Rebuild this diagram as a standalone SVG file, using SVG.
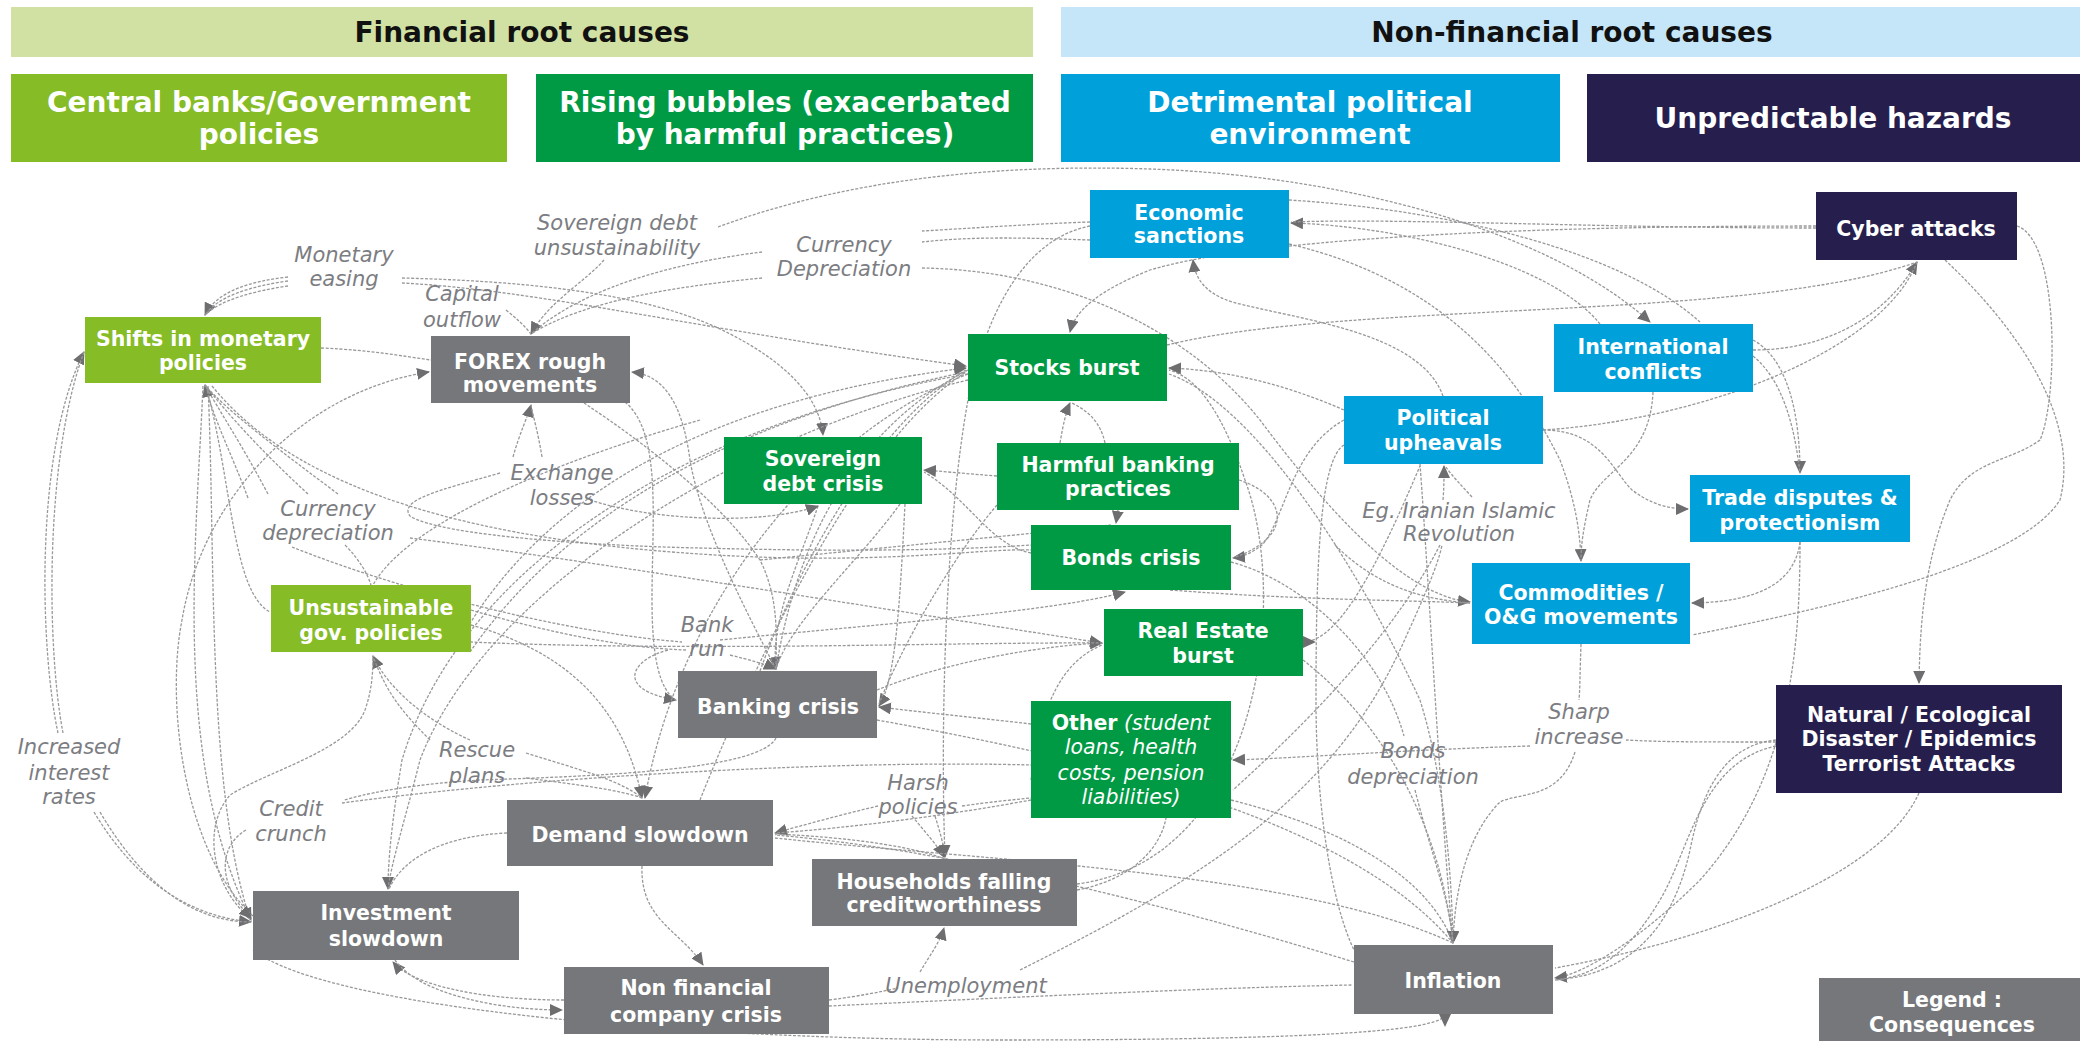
<svg xmlns="http://www.w3.org/2000/svg" width="2080" height="1041" viewBox="0 0 2080 1041">
  <style>
    .bar-t { font-family: "DejaVu Sans", Verdana, sans-serif; font-weight: bold; font-size: 28px; fill: #111; text-anchor: middle; }
    .cat-t { font-family: "DejaVu Sans", Verdana, sans-serif; font-weight: bold; font-size: 28px; fill: #fff; text-anchor: middle; }
    .n-t { font-family: "DejaVu Sans", Verdana, sans-serif; font-weight: bold; font-size: 20.5px; fill: #fff; text-anchor: middle; }
    .n-i { font-weight: normal; font-style: italic; }
    .lbl { font-family: "DejaVu Sans", Verdana, sans-serif; font-style: italic; font-size: 21px; fill: #7c7d82; text-anchor: middle; }
    .lg { fill: #86bc25; }
    .dg { fill: #009a44; }
    .bl { fill: #00a1da; }
    .nv { fill: #261f4e; }
    .gr { fill: #76777a; }
    .c { fill: none; stroke: #98989b; stroke-width: 1.3; stroke-dasharray: 3 1.6; }
    .a { marker-end: url(#ah); }
    .t { marker-start: url(#at); }
  </style>
  <defs>
    <marker id="ah" viewBox="0 0 13 12" refX="12" refY="6" markerWidth="13" markerHeight="12" markerUnits="userSpaceOnUse" orient="auto">
      <path d="M0,0 L13,6 L0,12 z" fill="#6e6e71"/>
    </marker>
    <marker id="at" viewBox="0 0 13 12" refX="0" refY="6" markerWidth="13" markerHeight="12" markerUnits="userSpaceOnUse" orient="auto">
      <path d="M0,0 L13,6 L0,12 z" fill="#6e6e71"/>
    </marker>
  </defs>
  <rect width="2080" height="1041" fill="#fff"/>

  <!-- Header bars -->
  <g id="hdr-financial">
    <rect x="11" y="7" width="1022" height="50" fill="#d1e1a3"/>
    <text class="bar-t" x="522" y="42">Financial root causes</text>
  </g>
  <g id="hdr-nonfinancial">
    <rect x="1061" y="7" width="1019" height="50" fill="#c5e6f8"/>
    <text class="bar-t" x="1572" y="42">Non-financial root causes</text>
  </g>
  <g id="cat-central">
    <rect x="11" y="74" width="496" height="88" class="lg"/>
    <text class="cat-t" x="259" y="112">Central banks/Government</text>
    <text class="cat-t" x="259" y="144">policies</text>
  </g>
  <g id="cat-bubbles">
    <rect x="536" y="74" width="497" height="88" class="dg"/>
    <text class="cat-t" x="785" y="112">Rising bubbles (exacerbated</text>
    <text class="cat-t" x="785" y="144">by harmful practices)</text>
  </g>
  <g id="cat-political">
    <rect x="1061" y="74" width="499" height="88" class="bl"/>
    <text class="cat-t" x="1310" y="112">Detrimental political</text>
    <text class="cat-t" x="1310" y="144">environment</text>
  </g>
  <g id="cat-hazards">
    <rect x="1587" y="74" width="493" height="88" class="nv"/>
    <text class="cat-t" x="1833" y="128">Unpredictable hazards</text>
  </g>

  <!-- Connectors -->
  <g id="connectors">
    <path class="c a" d="M288,277 C250,281 216,292 205,315"/>
    <path class="c" d="M288,281 C252,286 218,296 205,315"/>
    <path class="c" d="M288,286 C254,291 220,300 205,315"/>
    <path class="c a" d="M402,278 C520,281 640,292 718,328 C790,362 820,400 823,435"/>
    <path class="c a" d="M402,283 C540,290 700,330 966,366"/>
    <path class="c a" d="M604,260 C585,282 548,302 531,334"/>
    <path class="c" d="M506,310 C516,318 525,326 531,334"/>
    <path class="c" d="M762,252 C680,262 585,286 531,334"/>
    <path class="c" d="M762,278 C680,286 585,300 531,334"/>
    <path class="c" d="M1090,222 C1030,224 975,228 922,231"/>
    <path class="c" d="M1090,240 C1030,238 975,236 922,242"/>
    <path class="c a" d="M922,268 C1050,270 1180,320 1260,420 C1320,500 1400,595 1470,602"/>
    <path class="c a" d="M718,227 C850,178 1000,164 1150,169 C1350,176 1550,232 1650,322"/>
    <path class="c a" d="M248,498 C232,455 214,420 205,385"/>
    <path class="c" d="M268,494 C242,445 220,412 205,385"/>
    <path class="c" d="M308,494 C262,452 226,412 205,385"/>
    <path class="c" d="M338,494 C282,452 228,412 205,385"/>
    <path class="c a" d="M203,386 C196,550 172,760 251,920"/>
    <path class="c" d="M208,386 C216,560 206,790 251,922"/>
    <path class="c" d="M206,386 C232,480 232,592 270,612"/>
    <path class="c a" d="M58,733 C40,650 34,450 84,352"/>
    <path class="c" d="M63,733 C47,650 44,460 84,352"/>
    <path class="c a" d="M94,812 C130,872 180,915 251,922"/>
    <path class="c" d="M100,812 C140,880 190,922 251,922"/>
    <path class="c" d="M321,348 C370,350 402,356 431,360"/>
    <path class="c a" d="M253,916 C182,850 166,700 182,620 C202,500 300,392 429,372"/>
    <path class="c a" d="M513,457 C520,432 528,416 531,405"/>
    <path class="c" d="M542,457 C538,432 533,416 531,405"/>
    <path class="c" d="M500,473 C440,490 398,500 410,516 C440,536 600,546 700,548 C850,552 960,550 1031,545"/>
    <path class="c a" d="M410,538 C600,562 850,604 1102,643"/>
    <path class="c" d="M212,386 C280,470 420,536 700,554 C880,566 980,548 1031,550"/>
    <path class="c" d="M292,547 C400,590 560,632 682,642"/>
    <path class="c a" d="M730,655 C750,660 765,664 776,669"/>
    <path class="c a" d="M668,650 C630,660 615,690 676,700"/>
    <path class="c" d="M345,545 C360,560 368,575 371,585"/>
    <path class="c" d="M700,420 C560,460 410,520 373,585"/>
    <path class="c a" d="M460,640 C540,500 700,400 966,368"/>
    <path class="c" d="M470,652 C560,522 720,422 966,372"/>
    <path class="c" d="M471,610 C540,630 620,648 686,650"/>
    <path class="c a" d="M471,625 C560,650 622,700 642,798"/>
    <path class="c a" d="M470,740 C430,722 390,692 373,656"/>
    <path class="c" d="M430,740 C402,712 386,692 373,656"/>
    <path class="c" d="M526,753 C580,770 620,780 642,798"/>
    <path class="c" d="M526,778 C580,785 620,790 642,798"/>
    <path class="c" d="M250,918 C215,890 200,830 230,795 C270,770 350,750 365,710 C372,690 373,672 373,656"/>
    <path class="c a" d="M246,830 C220,845 215,882 251,918"/>
    <path class="c" d="M342,803 C550,775 850,760 1031,765"/>
    <path class="c a" d="M968,374 C700,420 462,560 402,760 C392,820 388,860 388,889"/>
    <path class="c" d="M968,380 C720,440 480,600 420,760 C405,820 392,860 388,889"/>
    <path class="c" d="M507,833 C440,836 402,860 389,889"/>
    <path class="c a" d="M564,1000 C480,1000 412,985 393,962"/>
    <path class="c a" d="M395,960 C420,995 500,1010 562,1010"/>
    <path class="c a" d="M642,866 C640,920 680,930 703,965"/>
    <path class="c t" d="M1445,1014 C1445,1032 1300,1040 1000,1040 C700,1040 330,1010 253,950"/>
    <path class="c" d="M829,1000 C860,996 880,992 898,988"/>
    <path class="c a" d="M920,972 C930,955 940,942 944,928"/>
    <path class="c" d="M1020,970 C1200,880 1330,800 1400,650 C1425,595 1438,565 1442,545"/>
    <path class="c a" d="M1443,500 C1444,488 1444,478 1444,466"/>
    <path class="c" d="M1472,497 C1462,486 1452,476 1446,467"/>
    <path class="c" d="M829,1006 C1000,998 1200,988 1352,985"/>
    <path class="c a" d="M912,816 C925,832 938,846 944,857"/>
    <path class="c" d="M935,816 C940,832 944,846 945,857"/>
    <path class="c" d="M962,806 C990,802 1010,800 1031,798"/>
    <path class="c a" d="M878,806 C840,815 800,826 775,833"/>
    <path class="c a" d="M818,506 C800,560 770,620 776,669"/>
    <path class="c" d="M900,504 C860,560 790,622 776,669"/>
    <path class="c a" d="M590,500 C650,520 760,526 818,506"/>
    <path class="c a" d="M905,504 C900,600 896,680 879,706"/>
    <path class="c a" d="M997,476 C970,474 950,472 924,470"/>
    <path class="c" d="M1031,553 C990,545 970,500 924,472"/>
    <path class="c a" d="M1090,226 C1020,240 985,320 968,400 C946,520 940,720 945,857"/>
    <path class="c" d="M968,370 C870,420 800,520 776,669"/>
    <path class="c a" d="M968,374 C820,432 680,600 645,798"/>
    <path class="c" d="M584,403 C640,440 720,500 760,560 C780,600 776,640 776,669"/>
    <path class="c a" d="M776,669 C740,600 700,520 690,460 C682,400 662,375 632,372"/>
    <path class="c" d="M625,402 C662,432 652,520 652,600 C652,660 660,690 676,700"/>
    <path class="c" d="M760,671 C800,560 880,420 966,370"/>
    <path class="c" d="M776,738 C760,770 600,776 480,780 C400,785 362,795 344,800"/>
    <path class="c a" d="M1031,724 C980,718 920,712 879,707"/>
    <path class="c" d="M997,505 C950,560 900,650 879,704"/>
    <path class="c" d="M1031,800 C950,815 850,828 775,833"/>
    <path class="c" d="M1354,962 C1150,900 950,850 775,835"/>
    <path class="c" d="M945,859 C900,842 820,836 775,834"/>
    <path class="c" d="M1077,890 C1130,880 1160,850 1166,818"/>
    <path class="c" d="M1077,884 C1260,860 1290,600 1245,480 C1225,420 1200,378 1169,370"/>
    <path class="c a" d="M1344,410 C1280,382 1222,370 1169,368"/>
    <path class="c a" d="M1169,374 C1250,402 1350,550 1420,700 C1445,780 1452,880 1453,943"/>
    <path class="c a" d="M1060,443 C1063,425 1066,412 1070,403"/>
    <path class="c" d="M1105,443 C1100,420 1086,410 1072,403"/>
    <path class="c a" d="M1443,396 C1420,332 1300,320 1232,302 C1202,292 1195,276 1193,260"/>
    <path class="c a" d="M1600,324 C1550,262 1400,226 1291,223"/>
    <path class="c" d="M1816,228 C1600,228 1400,218 1291,222"/>
    <path class="c a" d="M1816,226 C1500,226 1250,240 1150,270 C1100,290 1075,310 1070,332"/>
    <path class="c a" d="M1289,244 C1450,282 1520,380 1560,460 C1575,500 1580,530 1581,561"/>
    <path class="c" d="M1653,392 C1650,460 1602,470 1590,500 C1583,530 1581,545 1581,561"/>
    <path class="c a" d="M1753,340 C1790,360 1800,420 1800,473"/>
    <path class="c" d="M1753,356 C1785,382 1795,432 1800,473"/>
    <path class="c a" d="M1753,350 C1820,350 1882,322 1917,262"/>
    <path class="c" d="M1543,430 C1700,420 1882,352 1917,262"/>
    <path class="c a" d="M1543,430 C1600,430 1612,470 1632,490 C1652,505 1670,509 1688,509"/>
    <path class="c" d="M1167,345 C1350,300 1750,322 1917,262"/>
    <path class="c a" d="M1800,542 C1795,582 1760,602 1692,603"/>
    <path class="c a" d="M1800,542 C1800,650 1790,780 1700,880 C1640,940 1582,975 1555,978"/>
    <path class="c" d="M1776,740 C1720,745 1700,800 1690,850 C1670,940 1620,975 1555,980"/>
    <path class="c" d="M1776,746 C1700,762 1690,850 1660,900 C1630,950 1600,975 1555,980"/>
    <path class="c" d="M1919,793 C1880,880 1700,942 1555,968"/>
    <path class="c a" d="M2017,226 C2060,240 2058,400 2040,440 C2010,462 1970,460 1950,500 C1925,560 1920,620 1919,683"/>
    <path class="c" d="M1945,260 C2020,330 2080,420 2060,500 C2020,562 1850,604 1692,635"/>
    <path class="c" d="M1581,644 C1580,670 1580,690 1579,700"/>
    <path class="c a" d="M1575,752 C1560,800 1520,792 1500,802 C1470,832 1455,882 1453,943"/>
    <path class="c" d="M1776,742 C1700,742 1660,742 1626,740"/>
    <path class="c a" d="M1530,746 C1400,750 1300,758 1233,760"/>
    <path class="c" d="M1231,562 C1300,580 1380,650 1404,736"/>
    <path class="c" d="M1415,790 C1430,850 1450,900 1453,943"/>
    <path class="c" d="M877,720 C1100,760 1350,820 1453,943"/>
    <path class="c" d="M775,838 C1000,862 1300,872 1453,943"/>
    <path class="c" d="M1231,800 C1350,830 1430,880 1453,943"/>
    <path class="c" d="M1303,660 C1380,720 1440,820 1453,943"/>
    <path class="c" d="M1420,464 C1430,600 1440,800 1453,943"/>
    <path class="c a" d="M1344,420 C1290,450 1285,520 1262,545 C1252,553 1242,557 1233,558"/>
    <path class="c" d="M1239,480 C1286,495 1296,536 1233,558"/>
    <path class="c a" d="M1118,510 L1116,523"/>
    <path class="c" d="M760,560 C900,546 1050,532 1111,525"/>
    <path class="c a" d="M720,640 C900,622 1050,612 1125,592"/>
    <path class="c a" d="M877,690 C950,660 1050,645 1102,643"/>
    <path class="c" d="M470,642 C700,652 950,642 1102,643"/>
    <path class="c" d="M1031,780 C1042,702 1062,662 1102,645"/>
    <path class="c t" d="M1303,642 C1340,642 1380,560 1420,466"/>
    <path class="c" d="M1170,590 C1300,600 1400,600 1470,603"/>
    <path class="c" d="M1335,545 C1380,590 1430,600 1470,603"/>
    <path class="c" d="M1344,445 C1320,460 1316,560 1316,700 C1316,800 1330,900 1354,950"/>
    <path class="c" d="M1440,545 C1400,622 1330,702 1233,790"/>
    <path class="c" d="M1289,200 C1450,210 1620,250 1700,322"/>
    <path class="c" d="M700,800 C760,650 860,440 966,372"/>
  </g>

  <!-- Connector labels -->
  <g id="labels">
    <text class="lbl" x="344" y="262">Monetary</text>
    <text class="lbl" x="344" y="286">easing</text>
    <text class="lbl" x="617" y="230">Sovereign debt</text>
    <text class="lbl" x="617" y="255">unsustainability</text>
    <text class="lbl" x="462" y="301">Capital</text>
    <text class="lbl" x="462" y="327">outflow</text>
    <text class="lbl" x="844" y="252">Currency</text>
    <text class="lbl" x="844" y="276">Depreciation</text>
    <text class="lbl" x="328" y="516">Currency</text>
    <text class="lbl" x="328" y="540">depreciation</text>
    <text class="lbl" x="562" y="480">Exchange</text>
    <text class="lbl" x="562" y="505">losses</text>
    <text class="lbl" x="707" y="632">Bank</text>
    <text class="lbl" x="707" y="656">run</text>
    <text class="lbl" x="69" y="754">Increased</text>
    <text class="lbl" x="69" y="780">interest</text>
    <text class="lbl" x="69" y="804">rates</text>
    <text class="lbl" x="291" y="816">Credit</text>
    <text class="lbl" x="291" y="841">crunch</text>
    <text class="lbl" x="477" y="757">Rescue</text>
    <text class="lbl" x="477" y="783">plans</text>
    <text class="lbl" x="918" y="790">Harsh</text>
    <text class="lbl" x="918" y="814">policies</text>
    <text class="lbl" x="966" y="993">Unemployment</text>
    <text class="lbl" x="1413" y="758">Bonds</text>
    <text class="lbl" x="1413" y="784">depreciation</text>
    <text class="lbl" x="1579" y="719">Sharp</text>
    <text class="lbl" x="1579" y="744">increase</text>
    <text class="lbl" x="1459" y="518">Eg. Iranian Islamic</text>
    <text class="lbl" x="1459" y="541">Revolution</text>
  </g>

  <!-- Nodes -->
  <g id="n-shifts"><rect x="85" y="317" width="236" height="66" class="lg"/><text class="n-t" x="203" y="346">Shifts in monetary</text><text class="n-t" x="203" y="370">policies</text></g>
  <g id="n-forex"><rect x="431" y="336" width="199" height="67" class="gr"/><text class="n-t" x="530" y="369">FOREX rough</text><text class="n-t" x="530" y="392">movements</text></g>
  <g id="n-sovereign"><rect x="724" y="437" width="198" height="67" class="dg"/><text class="n-t" x="823" y="466">Sovereign</text><text class="n-t" x="823" y="491">debt crisis</text></g>
  <g id="n-stocks"><rect x="968" y="334" width="199" height="67" class="dg"/><text class="n-t" x="1067" y="375">Stocks burst</text></g>
  <g id="n-harmful"><rect x="997" y="443" width="242" height="67" class="dg"/><text class="n-t" x="1118" y="472">Harmful banking</text><text class="n-t" x="1118" y="496">practices</text></g>
  <g id="n-bonds"><rect x="1031" y="525" width="200" height="65" class="dg"/><text class="n-t" x="1131" y="565">Bonds crisis</text></g>
  <g id="n-sanctions"><rect x="1090" y="190" width="199" height="68" class="bl"/><text class="n-t" x="1189" y="220">Economic</text><text class="n-t" x="1189" y="243">sanctions</text></g>
  <g id="n-realestate"><rect x="1104" y="609" width="199" height="67" class="dg"/><text class="n-t" x="1203" y="638">Real Estate</text><text class="n-t" x="1203" y="663">burst</text></g>
  <g id="n-other"><rect x="1031" y="701" width="200" height="117" class="dg"/>
    <text class="n-t" x="1131" y="730">Other<tspan class="n-i"> (student</tspan></text>
    <text class="n-t n-i" x="1131" y="754">loans, health</text>
    <text class="n-t n-i" x="1131" y="780">costs, pension</text>
    <text class="n-t n-i" x="1131" y="804">liabilities)</text>
  </g>
  <g id="n-banking"><rect x="678" y="671" width="199" height="67" class="gr"/><text class="n-t" x="778" y="714">Banking crisis</text></g>
  <g id="n-demand"><rect x="507" y="800" width="266" height="66" class="gr"/><text class="n-t" x="640" y="842">Demand slowdown</text></g>
  <g id="n-households"><rect x="812" y="859" width="265" height="67" class="gr"/><text class="n-t" x="944" y="889">Households falling</text><text class="n-t" x="944" y="912">creditworthiness</text></g>
  <g id="n-investment"><rect x="253" y="891" width="266" height="69" class="gr"/><text class="n-t" x="386" y="920">Investment</text><text class="n-t" x="386" y="946">slowdown</text></g>
  <g id="n-nonfinancial"><rect x="564" y="967" width="265" height="67" class="gr"/><text class="n-t" x="696" y="995">Non financial</text><text class="n-t" x="696" y="1022">company crisis</text></g>
  <g id="n-unsustainable"><rect x="271" y="585" width="200" height="67" class="lg"/><text class="n-t" x="371" y="615">Unsustainable</text><text class="n-t" x="371" y="640">gov. policies</text></g>
  <g id="n-inflation"><rect x="1354" y="945" width="199" height="69" class="gr"/><text class="n-t" x="1453" y="988">Inflation</text></g>
  <g id="n-natural"><rect x="1776" y="685" width="286" height="108" class="nv"/><text class="n-t" x="1919" y="722">Natural / Ecological</text><text class="n-t" x="1919" y="746">Disaster / Epidemics</text><text class="n-t" x="1919" y="771">Terrorist Attacks</text></g>
  <g id="n-commodities"><rect x="1472" y="563" width="218" height="81" class="bl"/><text class="n-t" x="1581" y="600">Commodities /</text><text class="n-t" x="1581" y="624">O&amp;G movements</text></g>
  <g id="n-trade"><rect x="1690" y="475" width="220" height="67" class="bl"/><text class="n-t" x="1800" y="505">Trade disputes &amp;</text><text class="n-t" x="1800" y="530">protectionism</text></g>
  <g id="n-political"><rect x="1344" y="396" width="199" height="68" class="bl"/><text class="n-t" x="1443" y="425">Political</text><text class="n-t" x="1443" y="450">upheavals</text></g>
  <g id="n-international"><rect x="1554" y="324" width="199" height="68" class="bl"/><text class="n-t" x="1653" y="354">International</text><text class="n-t" x="1653" y="379">conflicts</text></g>
  <g id="n-cyber"><rect x="1816" y="192" width="201" height="68" class="nv"/><text class="n-t" x="1916" y="236">Cyber attacks</text></g>
  <g id="legend"><rect x="1819" y="978" width="261" height="63" class="gr"/><text class="n-t" x="1952" y="1007">Legend :</text><text class="n-t" x="1952" y="1032">Consequences</text></g>
</svg>
